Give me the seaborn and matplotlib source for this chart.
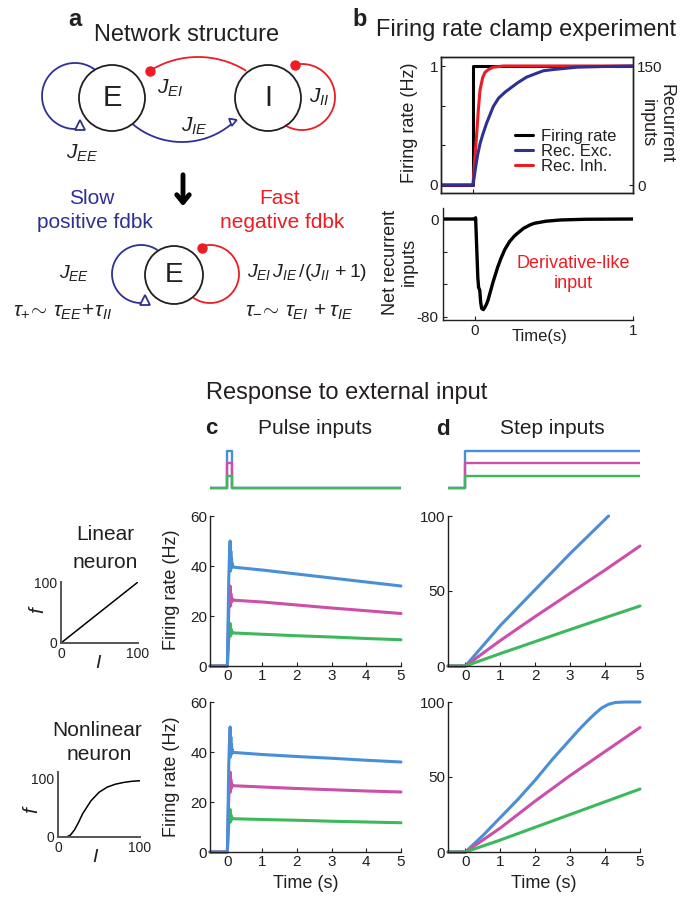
import numpy as np
import matplotlib
matplotlib.use("Agg")
import matplotlib.pyplot as plt
import seaborn as sns
from matplotlib.patches import Circle
from matplotlib.lines import Line2D

# ---------------- data ----------------
# panel b : firing-rate clamp
clamp_t = [-0.2, 0.0, 0.0, 1.0]
clamp_rate = [0, 0, 1, 1]
exc_t = [-0.2, 0.0, 0.01, 0.02, 0.03, 0.044, 0.06, 0.085, 0.1, 0.127, 0.16,
         0.2, 0.23, 0.28, 0.335, 0.4, 0.44, 0.5, 0.65, 0.8, 1.0]
exc_inputs = [0, 0, 13.5, 27, 39, 52, 63, 78, 85.5, 99, 109.5, 117, 121.5,
              129, 136, 141, 144, 145.5, 148.5, 149.3, 150]
inh_t = [-0.2, 0.0, 0.01, 0.023, 0.033, 0.044, 0.06, 0.075, 0.1, 0.127, 0.19,
         0.3, 1.0]
inh_inputs = [0, 0, 30, 64, 94, 120, 135, 142, 146, 148.5, 150, 150, 150]
net_t = [-0.2, 0.0, 0.006, 0.012, 0.02, 0.025, 0.032, 0.038, 0.044, 0.055,
         0.065, 0.075, 0.085, 0.1, 0.115, 0.127, 0.145, 0.165, 0.19, 0.22,
         0.25, 0.27, 0.31, 0.35, 0.377, 0.45, 0.54, 0.7, 1.0]
net_inputs = [0, 0, 1, -20, -48, -56, -58, -68, -73, -74, -72, -69.5, -66,
              -59, -52, -47, -39.5, -32.5, -25, -18.5, -14, -11.7, -7.5, -4.8,
              -3.5, -1.8, -0.8, -0.2, 0]

# f-I curves
fi_I_lin = [0, 100]
fi_f_lin = [0, 100]
fi_I_nl = [0, 10, 15, 20, 25, 30, 40, 50, 60, 70, 80, 90, 100]
fi_f_nl = [0, 0, 3, 12, 25, 40, 62, 77, 86, 91, 94, 96, 97]

# external inputs (blue, magenta, green)
input_amp = [3, 2, 1]
pulse_t = [-0.5, 0.0, 0.0, 0.12, 0.12, 5.0]
pulse_shape = [0, 0, 1, 1, 0, 0]
step_t = [-0.5, 0.0, 0.0, 5.0]
step_shape = [0, 0, 1, 1]

# pulse responses
resp_t = [-0.5, 0.0, 0.02, 0.04, 0.06, 0.08, 0.09, 0.10, 0.11, 0.12, 0.13,
          0.14, 0.16, 0.2, 1, 2, 3, 4, 5]
pulse_lin_blue = [0, 0, 18, 35, 44, 50, 38, 46, 39, 43, 40, 41, 39.8, 39.5,
                  38.4, 36.8, 35.2, 33.6, 32]
pulse_lin_mag = [0, 0, 11, 22, 28, 32, 24, 29, 25.5, 27.5, 26, 26.8, 26.4,
                 26.3, 25.6, 24.4, 23.2, 22.1, 21]
pulse_lin_green = [0, 0, 6, 11, 14.5, 17, 12, 15, 12.8, 14, 13.2, 13.6, 13.3,
                   13.2, 12.7, 12.1, 11.6, 11.0, 10.5]
pulse_nl_blue = [0, 0, 18, 35, 44, 50, 38, 46, 39, 43, 40, 41, 39.8, 39.8,
                 39.0, 38.2, 37.5, 36.7, 36]
pulse_nl_mag = [0, 0, 11, 22, 28, 32, 24, 29, 25.5, 27.5, 26, 26.8, 26.6,
                26.5, 26.0, 25.4, 24.9, 24.4, 24]
pulse_nl_green = [0, 0, 6, 11, 14.5, 17, 12, 15, 12.8, 14, 13.2, 13.6, 13.4,
                  13.3, 13.0, 12.7, 12.3, 12.0, 11.7]

# step responses
step_lin_blue_t = [-0.5, 0, 1, 2, 3, 4.1]
step_lin_blue = [0, 0, 27, 51, 75, 100]
step_t_full = [-0.5, 0, 1, 2, 3, 4, 5]
step_lin_mag = [0, 0, 17, 33, 48.5, 64, 80]
step_lin_green = [0, 0, 8.3, 16.3, 24.3, 32.2, 40]
step_nl_blue_t = [-0.5, 0, 0.5, 1, 1.5, 2, 2.5, 3, 3.25, 3.5, 3.7, 3.9, 4.1,
                  4.3, 4.6, 5]
step_nl_blue = [0, 0, 11, 23, 35, 48, 62, 75, 81.5, 87.5, 92, 96, 98.5, 99.7,
                100, 100]
step_nl_mag = [0, 0, 16, 34, 51, 67, 83]
step_nl_green = [0, 0, 8, 16.5, 25, 33.5, 42]

# ---------------- style ----------------
sns.set_style("white")
plt.rcParams["font.family"] = ["Liberation Sans", "DejaVu Sans"]
plt.rcParams["mathtext.fontset"] = "custom"
plt.rcParams["mathtext.rm"] = "Liberation Sans"
plt.rcParams["mathtext.it"] = "Liberation Sans:italic"
plt.rcParams["mathtext.bf"] = "Liberation Sans:bold"
plt.rcParams["text.color"] = "#231F20"

NAVY = "#2E3192"
RED = "#ED1C24"
BLUE = "#4A8FD6"
MAG = "#CC4FA8"
GRN = "#3DB85C"
DARK = "#231F20"

W, H = 681, 898
fig = plt.figure(figsize=(W / 100, H / 100), dpi=100)


def rect(l, t, r, b):
    return [l / W, 1 - b / H, (r - l) / W, (b - t) / H]


def T(x, y, s, size, ha="center", va="center", **kw):
    fig.text(x / W, 1 - y / H, s, fontsize=size, ha=ha, va=va, **kw)


def line(ax, x, y, color, lw, **kw):
    sns.lineplot(x=np.asarray(x, float), y=np.asarray(y, float), ax=ax,
                 color=color, lw=lw, sort=False, estimator=None,
                 errorbar=None, legend=False, **kw)


def style_axes(ax, size=11, pad=2, spcol=DARK, lw=1.0):
    for s in ax.spines.values():
        s.set_color(spcol)
        s.set_linewidth(lw)
    ax.tick_params(direction="in", length=3, width=0.8, labelsize=size,
                   pad=pad, colors=DARK, bottom=True, left=True)
    ax.set_xlabel("")
    ax.set_ylabel("")


# ---------------- overlay for diagrams ----------------
ov = fig.add_axes([0, 0, 1, 1])
ov.set_xlim(0, W)
ov.set_ylim(H, 0)
ov.axis("off")
ov.patch.set_alpha(0)


def arc(cx, cy, r, th0, th1, color, lw=1.3):
    th = np.radians(np.linspace(th0, th1, 120))
    ov.plot(cx + r * np.cos(th), cy - r * np.sin(th), color=color, lw=lw,
            zorder=2, solid_capstyle="butt")


def circ(cx, cy, r):
    ov.add_patch(Circle((cx, cy), r, facecolor="white", edgecolor=DARK,
                        lw=1.3, zorder=3))


# top network
arc(75, 96, 33, 40, 275, NAVY)
arc(198, 148, 91, 58, 122, RED)
arc(182, 65, 77, -130, -50, NAVY)
arc(302, 97, 33, -120, 105, RED)
circ(112, 98, 33)
circ(268, 98, 33)
ov.plot([150], [71], "o", ms=6.5, color=RED, zorder=4)
ov.plot([295], [65], "o", ms=6.5, color=RED, zorder=4)
ov.plot([80], [125], marker="^", ms=6.5, mfc="white", mec=NAVY, mew=1.3,
        zorder=4, ls="none")
ov.plot([232], [121], marker=(3, 0, -70), ms=6.5, mfc="white", mec=NAVY,
        mew=1.3, zorder=4, ls="none")
ov.text(112, 98, "E", fontsize=21, ha="center", va="center", zorder=5)
ov.text(268, 98, "I", fontsize=21, ha="center", va="center", zorder=5)

# arrow
ov.annotate("", xy=(183, 209), xytext=(183, 172),
            arrowprops=dict(arrowstyle="->,head_length=0.55,head_width=0.45",
                            lw=3.5, color="black"))

# bottom reduced network
arc(141, 274, 29, 55, 278, NAVY)
arc(210, 274, 29, -125, 107, RED)
circ(174, 275, 29)
ov.plot([202], [248], "o", ms=6.5, color=RED, zorder=4)
ov.plot([145], [300], marker="^", ms=6.5, mfc="white", mec=NAVY, mew=1.3,
        zorder=4, ls="none")
ov.text(174, 275, "E", fontsize=20, ha="center", va="center", zorder=5)

# panel a texts
T(75, 20, "a", 17, weight="bold")
T(187, 41, "Network structure", 17, va="baseline")
T(82, 153, r"$J_{EE}$", 15)
T(170, 88, r"$J_{EI}$", 15)
T(194, 126, r"$J_{IE}$", 15)
T(319, 97, r"$J_{II}$", 15)
T(92, 198, "Slow", 15, color=NAVY)
T(95, 223, "positive fdbk", 15, color=NAVY)
T(280, 198, "Fast", 15, color=RED)
T(282, 223, "negative fdbk", 15, color=RED)
T(74, 273, r"$J_{EE}$", 14)
T(247, 273, r"$J_{EI}\,J_{IE}\,/(J_{II}\,+1)$", 14, ha="left")
T(13, 312, r"$\tau_{+}\!\sim\,\tau_{EE}\!+\!\tau_{II}$", 15, ha="left")
T(245, 312, r"$\tau_{-}\!\sim\,\tau_{EI}\,+\tau_{IE}$", 15, ha="left")

# ---------------- panel b ----------------
T(360, 20, "b", 17, weight="bold")
T(526, 36, "Firing rate clamp experiment", 17, va="baseline")

axb = fig.add_axes(rect(441, 57, 633, 193))
line(axb, clamp_t, clamp_rate, "black", 2.2)
axb.set_xlim(-0.2, 1)
axb.set_ylim(-8 / 119, 1 + 9 / 119)
axb.set_yticks([0, 1 / 3, 2 / 3, 1])
axb.set_yticklabels(["0", "", "", "1"])
axb.set_xticks([0])
axb.set_xticklabels([""])
style_axes(axb, size=11)
axb2 = axb.twinx()
line(axb2, inh_t, inh_inputs, RED, 2.2)
line(axb2, exc_t, exc_inputs, NAVY, 2.2)
axb2.set_ylim(-8 / 119 * 150, (1 + 9 / 119) * 150)
axb2.set_yticks([0, 150])
axb2.set_yticklabels(["0", "150"])
style_axes(axb2, size=11, pad=3)
axb2.tick_params(right=True, left=False)
handles = [Line2D([0], [0], color="black", lw=2.2),
           Line2D([0], [0], color=NAVY, lw=2.2),
           Line2D([0], [0], color=RED, lw=2.2)]
axb2.legend(handles, ["Firing rate", "Rec. Exc.", "Rec. Inh."],
            loc="upper left", bbox_to_anchor=(515 / W, 1 - 129 / H),
            bbox_transform=fig.transFigure, frameon=False, fontsize=12,
            labelspacing=0.0, handlelength=1.1, handletextpad=0.45,
            borderpad=0, borderaxespad=0)
T(410, 123, "Firing rate (Hz)", 13, rotation=90)
T(657, 123, "Recurrent\ninputs", 13, rotation=270, linespacing=1.15)

axn = fig.add_axes(rect(443, 208, 633, 320))
line(axn, net_t, net_inputs, "black", 2.4)
axn.set_xlim(-0.2, 1)
axn.set_ylim(-82.5, 9)
axn.set_yticks([0, -80 / 3, -160 / 3, -80])
axn.set_yticklabels(["0", "", "", "-80"])
axn.set_xticks([0, 1])
axn.set_xticklabels(["0", "1"])
style_axes(axn, size=11, pad=3)
axn.spines["top"].set_visible(False)
axn.spines["right"].set_visible(False)
T(400, 262, "Net recurrent\ninputs", 13, rotation=90, linespacing=1.1)
T(573, 263, "Derivative-like", 13, color=RED)
T(573, 284, "input", 13, color=RED)
T(540, 337, "Time(s)", 12)

# ---------------- panels c / d ----------------
T(347, 393, "Response to external input", 17)
T(211, 428, "c", 16, weight="bold")
T(315, 428, "Pulse inputs", 15)
T(443, 430, "d", 16, weight="bold")
T(552, 428, "Step inputs", 15)

cols = [BLUE, MAG, GRN]
axpi = fig.add_axes(rect(210, 445, 401, 492))
for amp, c in zip(input_amp, cols):
    line(axpi, pulse_t, amp * np.array(pulse_shape), c, 1.7)
axpi.set_xlim(-0.5, 5)
axpi.set_ylim(-0.33, 3.5)
axpi.axis("off")

axsi = fig.add_axes(rect(448, 445, 640, 492))
for amp, c in zip(input_amp, cols):
    line(axsi, step_t, amp * np.array(step_shape), c, 1.7)
axsi.set_xlim(-0.5, 5)
axsi.set_ylim(-0.33, 3.5)
axsi.axis("off")


def resp_axes(box, ymax, yticks):
    ax = fig.add_axes(rect(*box))
    ax.set_xlim(-0.5, 5)
    ax.set_ylim(0, ymax)
    ax.set_xticks([0, 1, 2, 3, 4, 5])
    ax.set_yticks(yticks)
    style_axes(ax, size=11, pad=2)
    ax.spines["top"].set_visible(False)
    ax.spines["right"].set_visible(False)
    return ax


ac1 = resp_axes((210, 516, 401, 666), 60, [0, 20, 40, 60])
for y, c in [(pulse_lin_green, GRN), (pulse_lin_mag, MAG), (pulse_lin_blue, BLUE)]:
    line(ac1, resp_t, y, c, 2.2, clip_on=False)
ac2 = resp_axes((210, 702, 401, 852), 60, [0, 20, 40, 60])
for y, c in [(pulse_nl_green, GRN), (pulse_nl_mag, MAG), (pulse_nl_blue, BLUE)]:
    line(ac2, resp_t, y, c, 2.2, clip_on=False)

ad1 = resp_axes((448, 516, 640, 666), 100, [0, 50, 100])
line(ad1, step_lin_blue_t, step_lin_blue, BLUE, 2.2, clip_on=False)
line(ad1, step_t_full, step_lin_mag, MAG, 2.2, clip_on=False)
line(ad1, step_t_full, step_lin_green, GRN, 2.2, clip_on=False)
ad2 = resp_axes((448, 702, 640, 852), 100, [0, 50, 100])
line(ad2, step_nl_blue_t, step_nl_blue, BLUE, 2.2, clip_on=False)
line(ad2, step_t_full, step_nl_mag, MAG, 2.2, clip_on=False)
line(ad2, step_t_full, step_nl_green, GRN, 2.2, clip_on=False)

T(172, 590, "Firing rate (Hz)", 13, rotation=90)
T(172, 777, "Firing rate (Hz)", 13, rotation=90)
T(306, 884, "Time (s)", 13)
T(544, 884, "Time (s)", 13)

# f-I insets
T(105, 535, "Linear", 15)
T(105, 562, "neuron", 15)
T(97, 730, "Nonlinear", 15)
T(99, 755, "neuron", 15)


def fi_axes(box, ymax):
    ax = fig.add_axes(rect(*box))
    ax.set_xlim(0, 100)
    ax.set_ylim(0, ymax)
    ax.set_xticks([0, 100])
    ax.set_yticks([0, 100])
    style_axes(ax, size=10, pad=3, spcol="#555555", lw=1.4)
    ax.tick_params(length=0)
    ax.spines["top"].set_visible(False)
    ax.spines["right"].set_visible(False)
    return ax


afl = fi_axes((61, 582, 138, 643), 100)
line(afl, fi_I_lin, fi_f_lin, "black", 1.1)
afn = fi_axes((58, 772, 140, 837), 112)
line(afn, fi_I_nl, fi_f_nl, "black", 1.1)
T(38, 610, "f", 15, rotation=90, style="italic")
T(98, 663, "I", 14, style="italic")
T(32, 810, "f", 15, rotation=90, style="italic")
T(95, 858, "I", 14, style="italic")

fig.savefig("out.png", dpi=100)
